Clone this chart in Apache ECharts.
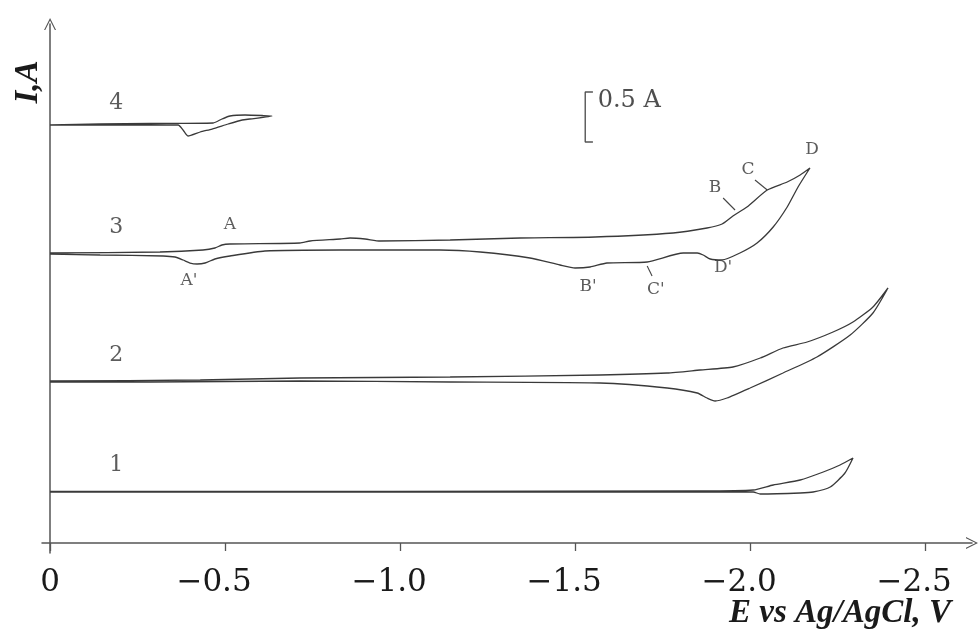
<!DOCTYPE html>
<html>
<head>
<meta charset="utf-8">
<script src="https://cdn.jsdelivr.net/npm/echarts@6/dist/echarts.min.js"></script>
<style>
  html, body { margin: 0; padding: 0; background: #fff; }
  #chart { width: 979px; height: 633px; }
</style>
</head>
<body>
<div id="chart"></div>
<script>
// ---- Data (potential E in V, current I in A relative to each curve's own baseline) ----
const curveNames = ['1', '2', '3', '4'];
const curveOffsets = [0.51, 1.62, 2.89, 4.18]; // vertical offsets (A) of the stacked curves

const E1 = [0, -1.000, -2.009, -2.029, -2.143, -2.180, -2.229, -2.271, -2.294,
            -2.257, -2.209, -2.143, -2.066, -2.009, -1.857, 0];
const I1 = [0, 0, 0, -0.02, -0.01, 0, 0.05, 0.19, 0.34,
            0.27, 0.20, 0.12, 0.07, 0.02, 0.01, 0.005];

const E2 = [0, -0.286, -0.714, -1.143, -1.571, -1.763, -1.849, -1.877, -1.900, -1.934,
            -2.000, -2.094, -2.191, -2.286, -2.351, -2.394,
            -2.351, -2.294, -2.237, -2.163, -2.094, -2.029, -1.951, -1.857, -1.763,
            -1.571, -1.143, -0.714, -0.429, 0];
const I2 = [-0.01, -0.01, 0.00, -0.01, -0.02, -0.07, -0.12, -0.17, -0.20, -0.17,
            -0.07, 0.08, 0.24, 0.46, 0.68, 0.93,
            0.74, 0.59, 0.49, 0.39, 0.33, 0.23, 0.14, 0.11, 0.08,
            0.06, 0.04, 0.03, 0.01, 0.00];

const E3 = [0, -0.143, -0.323, -0.357, -0.380, -0.400, -0.420, -0.443, -0.471, -0.514,
            -0.614, -0.829, -1.114, -1.229, -1.371, -1.457, -1.500, -1.543, -1.591, -1.706,
            -1.809, -1.849, -1.866, -1.886, -1.920, -1.971, -2.020, -2.066, -2.106, -2.137, -2.171,
            -2.143, -2.106, -2.049, -1.991, -1.951, -1.920, -1.877, -1.780, -1.557, -1.343,
            -1.143, -0.943, -0.900, -0.857, -0.829, -0.743, -0.714, -0.514, -0.491, -0.471,
            -0.437, -0.314, 0];
const I3 = [0, -0.01, -0.02, -0.03, -0.06, -0.09, -0.10, -0.09, -0.05, -0.02,
            0.03, 0.04, 0.04, 0.02, -0.04, -0.11, -0.14, -0.13, -0.09, -0.08,
            0.01, 0.01, -0.01, -0.05, -0.06, 0.01, 0.11, 0.27, 0.47, 0.67, 0.86,
            0.79, 0.72, 0.64, 0.47, 0.38, 0.30, 0.26, 0.21, 0.17, 0.16,
            0.14, 0.13, 0.15, 0.16, 0.15, 0.13, 0.11, 0.10, 0.09, 0.06,
            0.04, 0.02, 0.01];

const E4 = [0, -0.200, -0.366, -0.380, -0.394, -0.429, -0.463, -0.509, -0.549, -0.571, -0.634,
            -0.606, -0.557, -0.514, -0.491, -0.466, -0.286, -0.143, 0];
const I4 = [0, 0, 0, -0.05, -0.11, -0.07, -0.04, 0.01, 0.05, 0.06, 0.09,
            0.095, 0.10, 0.09, 0.06, 0.02, 0.015, 0.01, 0];

// x-axis tick values and labels
const xTicks = [0, -0.5, -1.0, -1.5, -2.0, -2.5];

// curve number labels (E, displayed I)
const numLabelE = [-0.189, -0.189, -0.189, -0.189];
const numLabelY = [0.78, 1.88, 3.16, 4.40];

// peak letter labels
const peakText = ['A', "A'", "B'", "C'", "D'", 'B', 'C', 'D'];
const peakE = [-0.514, -0.397, -1.537, -1.731, -1.923, -1.900, -1.994, -2.177];
const peakY = [3.18, 2.62, 2.56, 2.53, 2.75, 3.55, 3.73, 3.93];

// leader lines [E1, Y1, E2, Y2]
const leaders = [
  [-1.923, 3.45, -1.957, 3.33],   // B
  [-2.014, 3.63, -2.049, 3.53],   // C
  [-1.706, 2.77, -1.720, 2.67]    // C'
];

// 0.5 A scale bar
const scaleBarE = [-1.551, -1.529, -1.529, -1.551];
const scaleBarY = [4.51, 4.51, 4.01, 4.01];
const scaleText = '0.5 A';
const scaleTextE = -1.563;
const scaleTextY = 4.42;

// ---- Build ----
const curvesE = [E1, E2, E3, E4];
const curvesI = [I1, I2, I3, I4];
const lineColor = '#3a3a3a';
const chevron = 'path://M0,10 L5,0 L10,10 L9,10 L5,2 L1,10 Z';

const series = [];
curvesE.forEach(function (E, k) {
  series.push({
    type: 'line',
    name: curveNames[k],
    data: E.map(function (e, i) { return [e, curvesI[k][i] + curveOffsets[k]]; }),
    showSymbol: false,
    symbol: 'none',
    lineStyle: { color: lineColor, width: 1.3 },
    smooth: 0.2,
    silent: true,
    z: 3
  });
});

series.push({
  type: 'scatter',
  data: numLabelE.map(function (e, i) { return { value: [e, numLabelY[i]], name: curveNames[i] }; }),
  symbolSize: 1,
  itemStyle: { color: 'rgba(0,0,0,0)' },
  label: {
    show: true, position: 'inside', formatter: '{b}',
    fontFamily: 'DejaVu Serif', fontSize: 22, color: '#333'
  },
  silent: true
});

series.push({
  type: 'scatter',
  data: peakE.map(function (e, i) { return { value: [e, peakY[i]], name: peakText[i] }; }),
  symbolSize: 1,
  itemStyle: { color: 'rgba(0,0,0,0)' },
  label: {
    show: true, position: 'inside', formatter: '{b}',
    fontFamily: 'DejaVu Serif', fontSize: 17, color: '#333'
  },
  silent: true
});

leaders.forEach(function (l) {
  series.push({
    type: 'line',
    data: [[l[0], l[1]], [l[2], l[3]]],
    showSymbol: false, symbol: 'none',
    lineStyle: { color: '#444', width: 1.1 },
    silent: true
  });
});

series.push({
  type: 'line',
  data: scaleBarE.map(function (e, i) { return [e, scaleBarY[i]]; }),
  showSymbol: false, symbol: 'none',
  lineStyle: { color: '#555', width: 1.4 },
  silent: true
});

series.push({
  type: 'scatter',
  data: [{ value: [scaleTextE, scaleTextY], name: scaleText }],
  symbolSize: 1,
  itemStyle: { color: 'rgba(0,0,0,0)' },
  label: {
    show: true, position: 'right', distance: 0, formatter: '{b}',
    fontFamily: 'DejaVu Serif', fontSize: 24, color: '#222'
  },
  silent: true
});

const chart = echarts.init(document.getElementById('chart'), null, { renderer: 'canvas' });
chart.setOption({
  animation: false,
  backgroundColor: '#fff',
  grid: { left: 42, right: 7, top: 24, bottom: 80, containLabel: false },
  xAxis: {
    type: 'value',
    inverse: true,
    min: -2.634,
    max: 0.023,
    axisLine: {
      show: true, onZero: true,
      symbol: ['none', chevron], symbolSize: [14, 12],
      lineStyle: { color: '#555', width: 1.5 }
    },
    axisTick: {
      show: true, inside: false, length: 8, customValues: xTicks,
      lineStyle: { color: '#555', width: 1.3 }
    },
    axisLabel: {
      show: true, customValues: xTicks, margin: 14,
      fontFamily: 'DejaVu Serif', fontSize: 31, color: '#1a1a1a',
      formatter: function (v) {
        if (Math.abs(v) < 1e-9) return '0';
        return '\u2212' + Math.abs(v).toFixed(1) + '{p|}';
      },
      rich: { p: { width: 22 } }
    },
    splitLine: { show: false }
  },
  yAxis: {
    type: 'value',
    min: -0.1,
    max: 5.19,
    axisLine: {
      show: true, onZero: true,
      symbol: ['none', chevron], symbolSize: [14, 12],
      lineStyle: { color: '#555', width: 1.5 }
    },
    axisTick: { show: false },
    axisLabel: { show: false },
    splitLine: { show: false }
  },
  graphic: [
    {
      type: 'text', x: 28, y: 82, rotation: Math.PI / 2,
      style: {
        text: 'I,A', fontFamily: 'Liberation Serif', fontSize: 33,
        fontStyle: 'italic', fontWeight: 'bold', fill: '#1a1a1a',
        textAlign: 'center', textVerticalAlign: 'middle'
      }
    },
    {
      type: 'text', x: 840, y: 613,
      style: {
        text: 'E vs Ag/AgCl, V', fontFamily: 'Liberation Serif', fontSize: 33,
        fontStyle: 'italic', fontWeight: 'bold', fill: '#1a1a1a',
        textAlign: 'center', textVerticalAlign: 'middle'
      }
    }
  ],
  series: series
});
</script>
</body>
</html>
